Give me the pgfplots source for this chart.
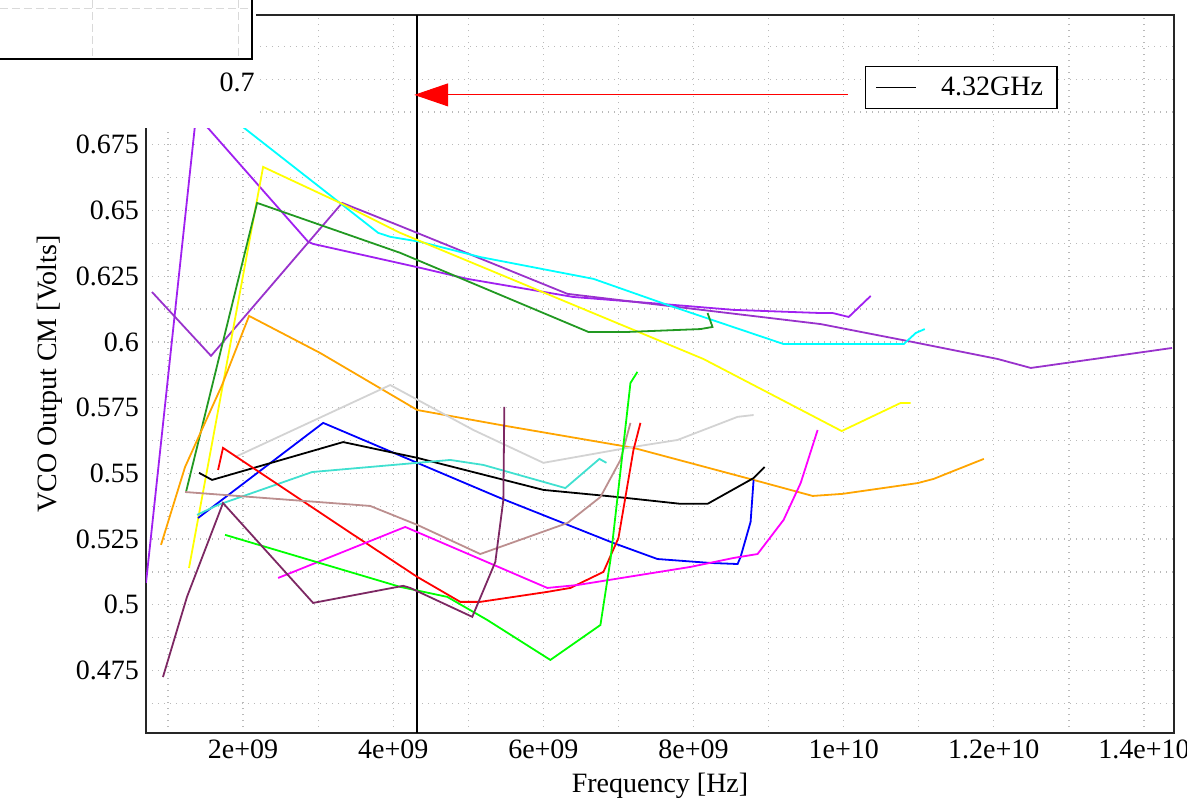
\documentclass[border=0pt]{standalone}
\usepackage{fontspec}
\setmainfont{Liberation Serif}
\usepackage{pgfplots}
\pgfplotsset{compat=1.18}
\usetikzlibrary{arrows.meta}
\definecolor{cPurple}{HTML}{A020F0}
\definecolor{cOrchid}{HTML}{9932CC}
\definecolor{cCyan}{HTML}{00FFFF}
\definecolor{cYellow}{HTML}{FFFF00}
\definecolor{cGreen}{HTML}{229922}
\definecolor{cOrange}{HTML}{FFA500}
\definecolor{cGray}{HTML}{D3D3D3}
\definecolor{cBlue}{HTML}{0000FF}
\definecolor{cTurq}{HTML}{40E0D0}
\definecolor{cRed}{HTML}{FF0000}
\definecolor{cRosy}{HTML}{BC8F8F}
\definecolor{cMagenta}{HTML}{FF00FF}
\definecolor{cLime}{HTML}{00FF00}
\definecolor{cMaroon}{HTML}{7D2863}
\begin{document}
\begin{tikzpicture}[font=\fontsize{14}{17}\selectfont]
\begin{axis}[
  at={(0pt,0pt)}, anchor=south west,
  scale only axis, width=514pt, height=359pt,
  xmin=0.707, xmax=14.4, ymin=0.4512, ymax=0.7244,
  xtick={2,4,6,8,10,12,14},
  xticklabels={2e+09,4e+09,6e+09,8e+09,1e+10,1.2e+10,1.4e+10},
  minor xtick={1,3,5,7,9,11,13},
  ytick={0.475,0.5,0.525,0.55,0.575,0.6,0.625,0.65,0.675,0.7},
  yticklabels={0.475,0.5,0.525,0.55,0.575,0.6,0.625,0.65,0.675,0.7},
  minor ytick={0.4625,0.4875,0.5125,0.5375,0.5625,0.5875,0.6125,0.6375,0.6625,0.6875,0.7125},
  grid=both,
  major grid style={gray!55, line width=0.6pt, dash pattern=on 0.6pt off 2.4pt},
  minor grid style={gray!55, line width=0.6pt, dash pattern=on 0.6pt off 2.4pt},
  major tick length=0pt, minor tick length=0pt,
  axis line style={black!85, line width=0.8pt},
  xlabel={Frequency [Hz]}, ylabel={VCO Output CM [Volts]},
  every tick label/.append style={font=\fontsize{14}{17}\selectfont},
  label style={font=\fontsize{14}{17}\selectfont},
  legend style={at={(0.6994,0.929)}, anchor=north west, draw=black, line width=0.6pt,
    inner xsep=5pt, inner ysep=3pt, font=\fontsize{14}{17}\selectfont, legend cell align=left,
    /tikz/every odd column/.append style={column sep=10pt}},
  legend image code/.code={\draw[#1] (0pt,0pt) -- (20pt,0pt);},
  every axis plot/.append style={line width=0.9pt},
]
% vertical marker
\addplot[black, line width=0.75pt] coordinates {(4.32,0.4512) (4.32,0.7244)};
\addlegendentry{4.32GHz}
% purple
\addplot[cPurple, forget plot] coordinates {(0.707,0.5083) (1.373,0.6860) (1.533,0.6814) (2.867,0.6381) (2.933,0.6373) (4.360,0.6282) (4.987,0.6240) (6.400,0.6171) (7.560,0.6145) (8.533,0.6122) (9.693,0.6110) (9.853,0.6110) (10.067,0.6095) (10.360,0.6175)};
% dark orchid
\addplot[cOrchid, forget plot] coordinates {(0.787,0.6190) (1.573,0.5947) (3.320,0.6529) (4.093,0.6441) (6.320,0.6183) (9.693,0.6068) (10.987,0.5996) (12.053,0.5935) (12.493,0.5901) (14.373,0.5977)};
% cyan
\addplot[cCyan, forget plot] coordinates {(1.827,0.6856) (3.800,0.6415) (3.960,0.6400) (4.360,0.6381) (5.160,0.6323) (6.667,0.6240) (7.653,0.6141) (9.200,0.5992) (10.800,0.5992) (10.960,0.6034) (11.080,0.6049)};
% yellow
\addplot[cYellow, forget plot] coordinates {(1.280,0.5140) (2.267,0.6666) (3.293,0.6529) (4.093,0.6415) (7.200,0.6046) (8.133,0.5935) (9.973,0.5661) (10.760,0.5768) (10.893,0.5768)};
% green
\addplot[cGreen, forget plot] coordinates {(1.240,0.5429) (2.187,0.6529) (4.093,0.6339) (6.600,0.6038) (7.120,0.6038) (8.093,0.6049) (8.253,0.6057) (8.187,0.6110)};
% orange
\addplot[cOrange, forget plot] coordinates {(0.907,0.5228) (1.227,0.5524) (1.720,0.5836) (2.080,0.6099) (3.027,0.5958) (4.320,0.5741) (5.427,0.5684) (7.200,0.5597) (8.800,0.5475) (9.587,0.5414) (9.987,0.5422) (10.987,0.5463) (11.200,0.5479) (11.427,0.5505) (11.867,0.5555)};
% light gray
\addplot[cGray, forget plot] coordinates {(1.893,0.5562) (3.960,0.5836) (5.067,0.5665) (6.000,0.5540) (7.120,0.5597) (7.787,0.5627) (8.587,0.5715) (8.800,0.5722)};
% blue
\addplot[cBlue, forget plot] coordinates {(1.400,0.5330) (3.067,0.5692) (4.320,0.5540) (5.427,0.5406) (6.933,0.5235) (7.520,0.5174) (8.227,0.5159) (8.587,0.5155) (8.627,0.5182) (8.760,0.5315) (8.800,0.5475)};
% black
\addplot[black, forget plot] coordinates {(1.413,0.5502) (1.587,0.5475) (3.333,0.5619) (4.320,0.5559) (6.000,0.5437) (6.987,0.5410) (7.827,0.5384) (8.187,0.5384) (8.800,0.5482) (8.947,0.5524)};
% turquoise
\addplot[cTurq, forget plot] coordinates {(1.387,0.5342) (1.667,0.5380) (2.920,0.5505) (4.320,0.5540) (4.760,0.5551) (5.200,0.5532) (6.293,0.5444) (6.747,0.5555) (6.840,0.5540)};
% red
\addplot[cRed, forget plot] coordinates {(1.667,0.5513) (1.733,0.5597) (3.333,0.5292) (4.320,0.5106) (4.893,0.5011) (5.160,0.5011) (6.053,0.5049) (6.360,0.5064) (6.800,0.5125) (7.000,0.5254) (7.200,0.5589) (7.293,0.5692)};
% rosy brown
\addplot[cRosy, forget plot] coordinates {(1.227,0.5429) (3.693,0.5376) (4.320,0.5304) (5.160,0.5193) (6.320,0.5311) (6.760,0.5410) (7.027,0.5551) (7.160,0.5692)};
% magenta
\addplot[cMagenta, forget plot] coordinates {(2.467,0.5102) (4.160,0.5296) (6.053,0.5064) (6.453,0.5075) (7.960,0.5144) (8.533,0.5178) (8.853,0.5193) (9.200,0.5323) (9.427,0.5463) (9.653,0.5665)};
% lime
\addplot[cLime, forget plot] coordinates {(1.760,0.5266) (4.093,0.5068) (4.720,0.5030) (5.253,0.4942) (6.093,0.4790) (6.760,0.4923) (6.893,0.5170) (7.160,0.5844) (7.253,0.5886)};
% maroon
\addplot[cMaroon, forget plot] coordinates {(0.933,0.4725) (1.253,0.5030) (1.733,0.5387) (2.933,0.5007) (4.133,0.5072) (4.227,0.5064) (5.053,0.4954) (5.360,0.5163) (5.467,0.5399) (5.480,0.5753)};
% arrow annotation
\draw[cRed, line width=0.5pt, -{Triangle[length=17pt,width=11.5pt]}] (axis cs:10.053,0.694) -- (axis cs:4.28,0.694);
\end{axis}
% white patch over the top-left corner
\fill[white] (-80pt,375pt) rectangle (55pt,302.5pt);
% fragment of another frame
\draw[gray!30, line width=0.5pt, dash pattern=on 4pt off 2pt] (-73pt,362pt) -- (53pt,362pt);
\draw[gray!30, line width=0.5pt, dash pattern=on 4pt off 2pt] (-26.5pt,366.5pt) -- (-26.5pt,337pt);
\draw[gray!30, line width=0.5pt, dash pattern=on 4pt off 2pt] (46pt,366.5pt) -- (46pt,337pt);
\draw[black, line width=0.7pt] (-73pt,337pt) -- (53pt,337pt) -- (53pt,367pt);
\node[anchor=base east, inner sep=0pt] at (54.5pt,320.5pt) {0.7};
\pgfresetboundingbox
\path (-73pt,-38.5pt) rectangle (520.5pt,366.5pt);
\end{tikzpicture}
\end{document}
